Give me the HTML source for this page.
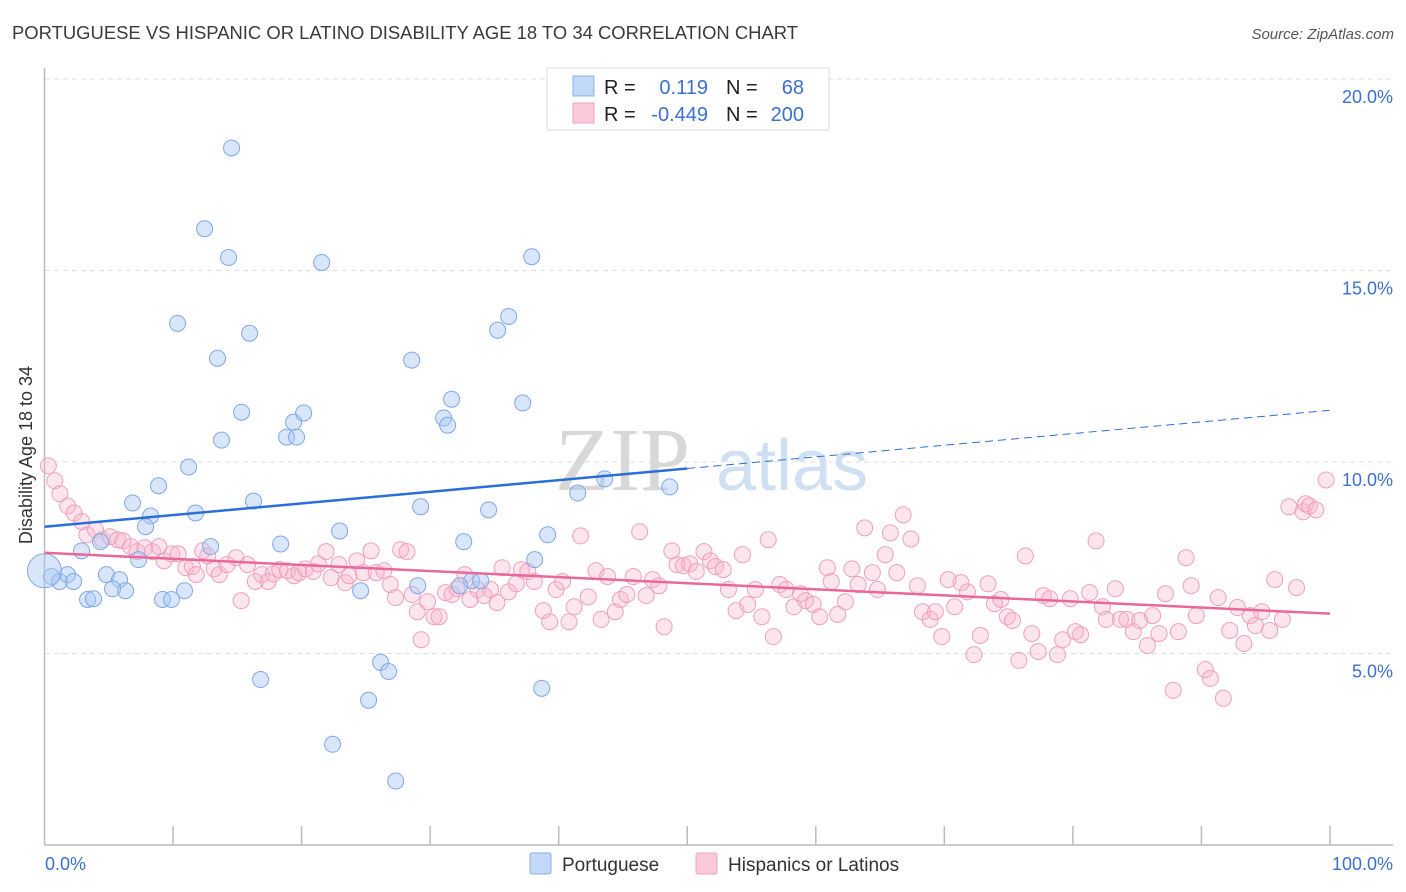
<!DOCTYPE html>
<html><head><meta charset="utf-8"><style>
body{margin:0;background:#fff;font-family:"Liberation Sans",sans-serif}
svg{display:block}
</style></head><body>
<svg id="chart" width="1406" height="892" xmlns="http://www.w3.org/2000/svg">
<text x="12" y="39" font-size="18" fill="#3a3a3a" textLength="786" lengthAdjust="spacingAndGlyphs">PORTUGUESE VS HISPANIC OR LATINO DISABILITY AGE 18 TO 34 CORRELATION CHART</text>
<text x="1394" y="39" font-size="15" font-style="italic" fill="#555" text-anchor="end">Source: ZipAtlas.com</text>
<g id="grid"></g>
<text x="690" y="490" font-size="90" fill="#d8d8d8" text-anchor="end" font-family="Liberation Serif">ZIP</text>
<text x="716" y="490" font-size="72" fill="#cfe0f2">atlas</text>
<g id="pts"></g>
<g id="trends"></g>
<text x="32" y="455" font-size="18" fill="#333" text-anchor="middle" transform="rotate(-90 32 455)">Disability Age 18 to 34</text>
<g>
<rect x="547" y="68" width="282" height="62" fill="#fff" stroke="#ddd"/>
<rect x="573" y="76" width="21" height="20" fill="#c2d8f7" stroke="#8ab0ea"/>
<rect x="573" y="103" width="21" height="20" fill="#fbcad8" stroke="#f0a0bc"/>
<text font-size="20" fill="#222"><tspan x="604" y="94">R =</tspan><tspan x="604" y="121">R =</tspan><tspan x="726" y="94">N =</tspan><tspan x="726" y="121">N =</tspan></text>
<text font-size="20" fill="#3b70cc" text-anchor="end"><tspan x="708" y="94">0.119</tspan><tspan x="708" y="121">-0.449</tspan><tspan x="804" y="94">68</tspan><tspan x="804" y="121">200</tspan></text>
</g>
<text x="45" y="870" font-size="18" fill="#3b70cc">0.0%</text>
<text x="1393" y="870" font-size="18" fill="#3b70cc" text-anchor="end">100.0%</text>
<g>
<rect x="530" y="853" width="21" height="21" fill="#c2d8f7" stroke="#8ab0ea" rx="2"/>
<text x="562" y="871" font-size="19" fill="#333">Portuguese</text>
<rect x="696" y="853" width="21" height="21" fill="#fbcad8" stroke="#f0a0bc" rx="2"/>
<text x="728" y="871" font-size="19" fill="#333">Hispanics or Latinos</text>
</g>
</svg>
<script>
const yTicks=[5,10,15,20];
const yTickLabels=["5.0%","10.0%","15.0%","20.0%"];
const blueX=[14.55,12.45,14.32,21.56,37.9,10.35,15.95,36.11,35.25,13.46,28.56,15.33,31.67,37.2,19.38,20.16,31.05,31.36,18.83,19.61,13.77,11.21,43.58,41.48,48.64,6.85,8.87,16.26,29.26,34.55,8.25,11.75,7.86,22.96,39.14,32.61,4.36,12.92,18.37,2.88,7.32,38.13,0.54,1.17,1.79,2.26,4.82,5.84,6.3,5.29,10.89,9.18,9.88,3.35,3.81,29.03,24.59,33.23,33.93,32.3,26.15,26.77,16.81,38.68,25.21,22.41,27.32];
const blueY=[18.2,16.09,15.34,15.21,15.36,13.62,13.36,13.8,13.44,12.71,12.66,11.3,11.64,11.54,11.04,11.28,11.15,10.96,10.65,10.65,10.57,9.87,9.56,9.19,9.35,8.93,9.38,8.98,8.83,8.75,8.59,8.67,8.31,8.2,8.1,7.92,7.92,7.79,7.86,7.68,7.45,7.45,7.01,6.88,7.06,6.88,7.06,6.93,6.64,6.69,6.64,6.41,6.41,6.41,6.43,6.77,6.64,6.9,6.9,6.77,4.77,4.53,4.32,4.09,3.78,2.63,1.67];
const pinkX=[0.3,0.8,1.2,1.8,2.3,2.9,3.3,3.97,4.5,5.1,5.7,6.1,6.7,7.2,7.8,8.4,8.9,9.3,9.9,10.4,11,11.5,11.8,12.3,12.7,13.2,13.6,14.2,14.9,15.3,15.8,16.4,16.9,17.4,17.8,18.3,18.9,19.4,19.8,20.3,20.9,21.3,21.9,22.3,22.9,23.4,23.7,24.3,24.8,25.4,25.8,26.4,26.9,27.3,27.7,28.2,28.6,29,29.3,29.8,30.3,30.7,31.2,31.7,32.1,32.7,33.1,33.7,34.2,34.7,35.2,35.6,36.1,36.7,37.1,37.6,38.1,38.8,39.3,39.8,40.3,40.8,41.2,41.7,42.3,42.9,43.3,43.8,44.4,44.8,45.3,45.8,46.3,46.8,47.3,47.8,48.2,48.8,49.2,49.7,50.2,50.7,51.3,51.8,52.2,52.8,53.2,53.8,54.3,54.7,55.3,55.8,56.3,56.7,57.2,57.7,58.3,58.8,59.2,59.8,60.3,60.9,61.2,61.7,62.3,62.8,63.3,63.8,64.4,64.8,65.4,65.8,66.3,66.8,67.4,67.9,68.3,68.9,69.3,69.8,70.3,70.8,71.3,71.8,72.3,72.8,73.4,73.9,74.4,74.9,75.3,75.8,76.3,76.8,77.3,77.7,78.2,78.8,79.2,79.8,80.2,80.6,81.3,81.8,82.3,82.6,83.3,83.7,84.2,84.7,85.2,85.8,86.2,86.7,87.2,87.8,88.2,88.8,89.2,89.6,90.3,90.7,91.3,91.7,92.2,92.8,93.3,93.8,94.2,94.7,95.3,95.7,96.3,96.8,97.4,97.9,98.1,98.4,98.9,99.7];
const pinkY=[9.9,9.51,9.17,8.85,8.67,8.44,8.1,8.23,7.97,8.05,7.97,7.94,7.79,7.66,7.76,7.66,7.79,7.42,7.6,7.6,7.24,7.27,7.06,7.68,7.55,7.21,7.06,7.32,7.5,6.38,7.32,6.88,7.06,6.88,7.08,7.19,7.16,7.03,7.11,7.21,7.14,7.34,7.66,6.98,7.32,6.85,7.03,7.42,7.11,7.68,7.11,7.16,6.8,6.46,7.71,7.66,6.54,6.09,5.36,6.35,5.96,5.96,6.59,6.54,6.69,7.06,6.41,6.67,6.51,6.67,6.33,7.24,6.61,6.82,7.19,7.14,6.88,6.12,5.83,6.67,6.88,5.83,6.22,8.07,6.48,7.16,5.89,7.01,6.09,6.41,6.54,7.01,8.18,6.51,6.93,6.77,5.7,7.68,7.32,7.29,7.34,7.14,7.66,7.42,7.27,7.19,6.67,6.12,7.58,6.28,6.67,5.96,7.97,5.44,6.8,6.67,6.22,6.56,6.38,6.28,5.96,7.24,6.88,6.02,6.35,7.21,6.8,8.28,7.11,6.67,7.58,8.15,7.11,8.62,7.99,6.77,6.09,5.89,6.09,5.44,6.93,6.22,6.85,6.61,4.97,5.47,6.82,6.3,6.41,5.96,5.86,4.82,7.55,5.52,5.05,6.51,6.43,4.97,5.36,6.43,5.57,5.49,6.59,7.94,6.22,5.89,6.69,5.89,5.89,5.57,5.86,5.21,5.99,5.52,6.56,4.04,5.57,7.5,6.77,5.99,4.58,4.35,6.46,3.83,5.6,6.2,5.26,5.99,5.73,6.09,5.6,6.93,5.89,8.83,6.72,8.7,8.91,8.85,8.75,9.53];
const blueTrend=[8.31,11.35];
const pinkTrend=[7.63,6.04];
const NS='http://www.w3.org/2000/svg';
const X=v=>44.5+v*12.855;
const Y=v=>845-v*38.3;
function mk(tag,attrs,parent){const e=document.createElementNS(NS,tag);for(const k in attrs)e.setAttribute(k,attrs[k]);parent.appendChild(e);return e;}
const grid=document.getElementById('grid');
yTicks.forEach((t,i)=>{
 const l=mk('line',{x1:45,x2:1393,y1:Y(t),y2:Y(t),stroke:'#ddd','stroke-dasharray':'5,4'},grid);
 
 
 const tx=mk('text',{x:1393,y:Y(t)+24,'font-size':18,fill:'#3b70cc','text-anchor':'end'},grid);
 tx.textContent=yTickLabels[i];
 
 
});
mk('line',{x1:44.5,x2:44.5,y1:68,y2:845,stroke:'#bbb','stroke-width':1.5},grid);
mk('line',{x1:44.5,x2:1393,y1:845,y2:845,stroke:'#bbb','stroke-width':1.5},grid);
for(let i=1;i<=10;i++){const t=mk('line',{x1:X(i*10),x2:X(i*10),y1:826,y2:845,stroke:'#bbb','stroke-width':1.5},grid);}
const pts=document.getElementById('pts');
pinkX.forEach((x,i)=>{const c=mk('circle',{cx:X(x),cy:Y(pinkY[i]),r:8,fill:'rgba(248,180,202,0.35)',stroke:'#f0a0bc','stroke-width':1},pts);
 
 });
blueX.forEach((x,i)=>{const c=mk('circle',{cx:X(x),cy:Y(blueY[i]),r:8,fill:'rgba(170,200,245,0.45)',stroke:'#7fa8e6','stroke-width':1},pts);
 
 });
const big=mk('circle',{cx:X(0),cy:Y(7.16),r:17,fill:'rgba(170,200,245,0.45)',stroke:'#7fa8e6'},pts);


const tr=document.getElementById('trends');
const bAt=v=>blueTrend[0]+(blueTrend[1]-blueTrend[0])*v/100;
const b1=mk('line',{x1:X(0),y1:Y(bAt(0)),x2:X(50),y2:Y(bAt(50)),stroke:'#2a6fd6','stroke-width':2.5},tr);


const b2=mk('line',{x1:X(50),y1:Y(bAt(50)),x2:X(100),y2:Y(bAt(100)),stroke:'#2a6fd6','stroke-width':1,'stroke-dasharray':'8,5'},tr);


const p1=mk('line',{x1:X(0),y1:Y(pinkTrend[0]),x2:X(100),y2:Y(pinkTrend[1]),stroke:'#e8689a','stroke-width':2.5},tr);


</script>
</body></html>
